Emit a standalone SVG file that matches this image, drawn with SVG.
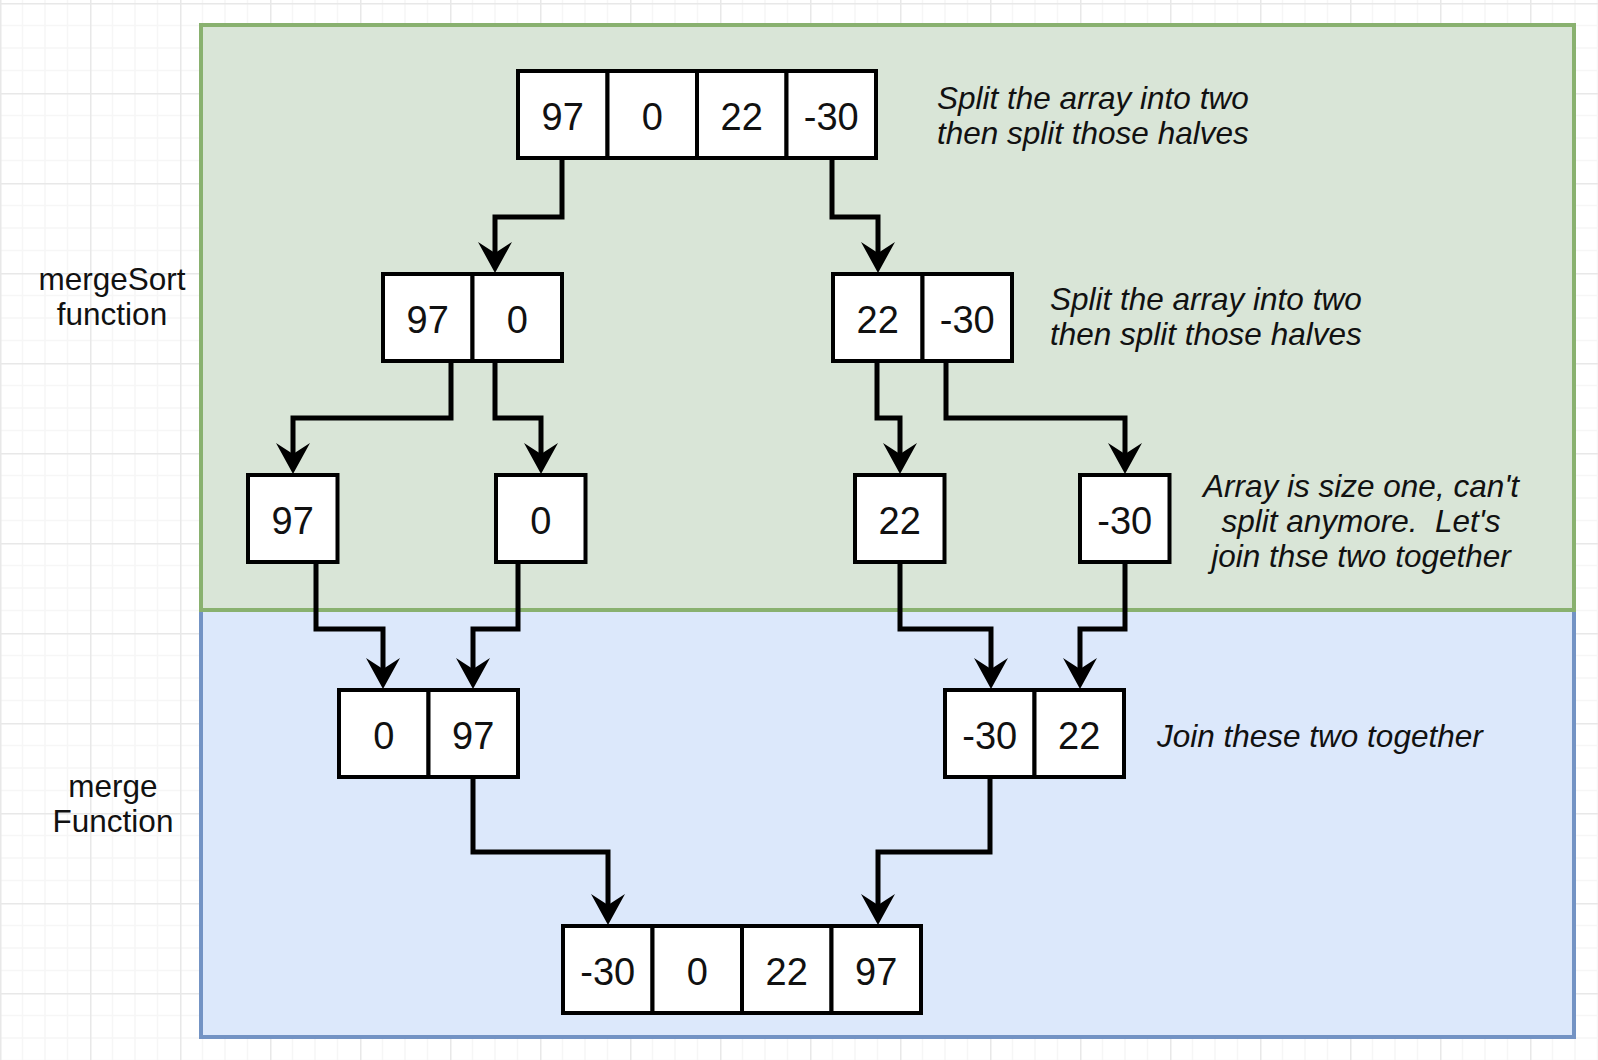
<svg xmlns="http://www.w3.org/2000/svg" width="1598" height="1060" viewBox="0 0 1598 1060">
<style>
.cell{fill:#ffffff;stroke:#000000;stroke-width:4}
.num{font-family:"Liberation Sans",Arial,sans-serif;font-size:38px;fill:#111111;text-anchor:middle}
.lbl{font-family:"Liberation Sans",Arial,sans-serif;font-size:31.5px;fill:#111111;text-anchor:middle}
.note{font-family:"Liberation Sans",Arial,sans-serif;font-size:31.5px;font-style:italic;fill:#111111;white-space:pre}
.conn{fill:none;stroke:#000000;stroke-width:5;stroke-linejoin:miter}
</style>
<defs>
<pattern id="grid" x="0" y="3" width="90" height="90" patternUnits="userSpaceOnUse">
<path d="M22.5,0V90M45,0V90M67.5,0V90M0,22.5H90M0,45H90M0,67.5H90" stroke="#f6f6f6" stroke-width="1.5" fill="none"/>
<path d="M0.75,0V90M0,0.75H90" stroke="#e8e8e8" stroke-width="1.5" fill="none"/>
</pattern>
<marker id="arrow" markerUnits="userSpaceOnUse" markerWidth="40" markerHeight="40" refX="0" refY="0" viewBox="-15 -20 40 40" orient="auto" overflow="visible">
<path d="M20,0 L-11,-17 L0,0 L-11,17 Z" fill="#000000"/>
</marker>
</defs>
<rect width="1598" height="1060" fill="#ffffff"/>
<rect width="1598" height="1060" fill="url(#grid)"/>

<g id="merge-region">
<rect x="201" y="610" width="1373" height="427" fill="#dce8fb" stroke="#7393c4" stroke-width="4"/>
</g>
<g id="mergesort-region">
<rect x="201" y="25" width="1373" height="585" fill="#d9e5d7" stroke="#89b16f" stroke-width="4"/>
</g>

<g id="label-mergesort">
<text class="lbl" x="112" y="290">mergeSort</text>
<text class="lbl" x="112" y="325">function</text>
</g>
<g id="label-merge">
<text class="lbl" x="113" y="797">merge</text>
<text class="lbl" x="113" y="832">Function</text>
</g>

<g id="connectors">
<path class="conn" marker-end="url(#arrow)" d="M562,158 V217 H495 V253"/>
<path class="conn" marker-end="url(#arrow)" d="M832,158 V217 H878 V253"/>
<path class="conn" marker-end="url(#arrow)" d="M451,361 V418 H293 V454"/>
<path class="conn" marker-end="url(#arrow)" d="M495,361 V418 H541 V454"/>
<path class="conn" marker-end="url(#arrow)" d="M877,361 V418 H900 V454"/>
<path class="conn" marker-end="url(#arrow)" d="M946,361 V418 H1125 V454"/>
<path class="conn" marker-end="url(#arrow)" d="M316,562 V629 H383 V669"/>
<path class="conn" marker-end="url(#arrow)" d="M518,562 V629 H473 V669"/>
<path class="conn" marker-end="url(#arrow)" d="M900,562 V629 H991 V669"/>
<path class="conn" marker-end="url(#arrow)" d="M1125,562 V629 H1080 V669"/>
<path class="conn" marker-end="url(#arrow)" d="M473,777 V852 H608 V905"/>
<path class="conn" marker-end="url(#arrow)" d="M990,777 V852 H878 V905"/>
</g>

<g id="array-top">
<rect class="cell" x="518" y="71" width="89.5" height="87"/>
<rect class="cell" x="607.5" y="71" width="89.5" height="87"/>
<rect class="cell" x="697" y="71" width="89.5" height="87"/>
<rect class="cell" x="786.5" y="71" width="89.5" height="87"/>
<text class="num" x="562.75" y="129.5">97</text>
<text class="num" x="652.25" y="129.5">0</text>
<text class="num" x="741.75" y="129.5">22</text>
<text class="num" x="831.25" y="129.5">-30</text>
</g>

<g id="array-left-half">
<rect class="cell" x="383" y="274" width="89.5" height="87"/>
<rect class="cell" x="472.5" y="274" width="89.5" height="87"/>
<text class="num" x="427.75" y="332.5">97</text>
<text class="num" x="517.25" y="332.5">0</text>
</g>

<g id="array-right-half">
<rect class="cell" x="833" y="274" width="89.5" height="87"/>
<rect class="cell" x="922.5" y="274" width="89.5" height="87"/>
<text class="num" x="877.75" y="332.5">22</text>
<text class="num" x="967.25" y="332.5">-30</text>
</g>

<g id="single-97">
<rect class="cell" x="248" y="475" width="89.5" height="87"/>
<text class="num" x="292.75" y="533.5">97</text>
</g>
<g id="single-0">
<rect class="cell" x="496" y="475" width="89.5" height="87"/>
<text class="num" x="540.75" y="533.5">0</text>
</g>
<g id="single-22">
<rect class="cell" x="855" y="475" width="89.5" height="87"/>
<text class="num" x="899.75" y="533.5">22</text>
</g>
<g id="single-neg30">
<rect class="cell" x="1080" y="475" width="89.5" height="87"/>
<text class="num" x="1124.75" y="533.5">-30</text>
</g>

<g id="merged-left">
<rect class="cell" x="339" y="690" width="89.5" height="87"/>
<rect class="cell" x="428.5" y="690" width="89.5" height="87"/>
<text class="num" x="383.75" y="748.5">0</text>
<text class="num" x="473.25" y="748.5">97</text>
</g>

<g id="merged-right">
<rect class="cell" x="945" y="690" width="89.5" height="87"/>
<rect class="cell" x="1034.5" y="690" width="89.5" height="87"/>
<text class="num" x="989.75" y="748.5">-30</text>
<text class="num" x="1079.25" y="748.5">22</text>
</g>

<g id="array-sorted">
<rect class="cell" x="563" y="926" width="89.5" height="87"/>
<rect class="cell" x="652.5" y="926" width="89.5" height="87"/>
<rect class="cell" x="742" y="926" width="89.5" height="87"/>
<rect class="cell" x="831.5" y="926" width="89.5" height="87"/>
<text class="num" x="607.75" y="984.5">-30</text>
<text class="num" x="697.25" y="984.5">0</text>
<text class="num" x="786.75" y="984.5">22</text>
<text class="num" x="876.25" y="984.5">97</text>
</g>

<g id="note-split-1">
<text class="note" x="937" y="109">Split the array into two</text>
<text class="note" x="937" y="144">then split those halves</text>
</g>
<g id="note-split-2">
<text class="note" x="1050" y="310">Split the array into two</text>
<text class="note" x="1050" y="345">then split those halves</text>
</g>
<g id="note-size-one">
<text class="note" x="1361" y="497" text-anchor="middle">Array is size one, can't</text>
<text class="note" x="1361" y="532" text-anchor="middle">split anymore.  Let's</text>
<text class="note" x="1361" y="567" text-anchor="middle">join thse two together</text>
</g>
<g id="note-join">
<text class="note" x="1157" y="747">Join these two together</text>
</g>
</svg>
